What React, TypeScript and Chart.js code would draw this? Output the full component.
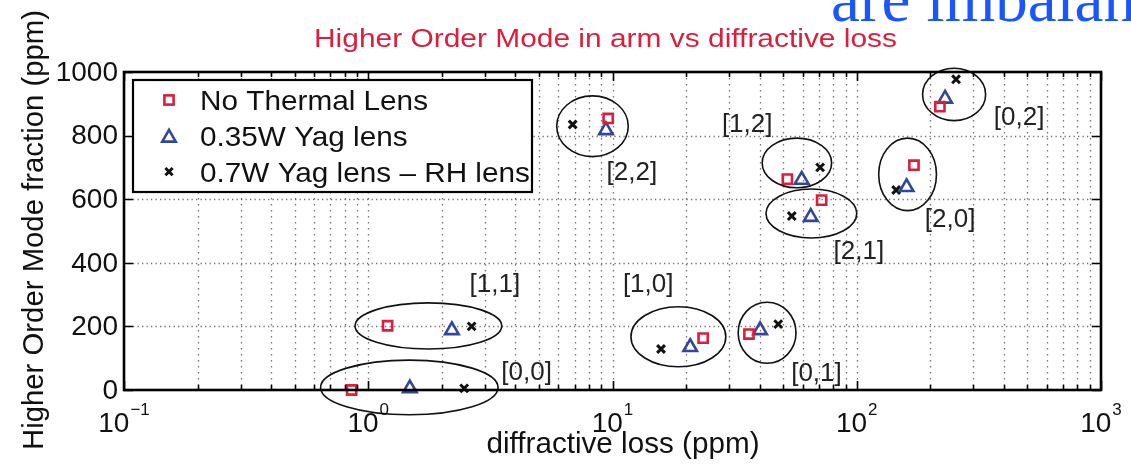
import React, { useEffect, useRef } from "react";
import { Chart, registerables } from "chart.js";

Chart.register(...registerables);

// ---------- data ----------
const modeLabels = ["[0,0]", "[1,1]", "[1,0]", "[0,1]", "[2,2]", "[1,2]", "[2,1]", "[2,0]", "[0,2]"];

const noLensX = [0.855, 1.2, 23.5, 36.2, 9.6, 52, 71.8, 171.5, 219];
const noLensY = [0, 202, 163, 176, 854, 663, 597, 707, 891];

const yag035X = [1.48, 2.2, 20.8, 40.2, 9.4, 59.5, 64.8, 160, 230];
const yag035Y = [5, 188, 135, 188, 817, 661, 544, 638, 916];

const yag07X = [2.47, 2.65, 15.8, 47.7, 6.87, 70.8, 54.2, 145, 255];
const yag07Y = [5, 200, 129, 207, 835, 700, 547, 629, 977];

// ellipse annotation bounds (data units) per mode
const ellXMin = [0.638, 0.883, 11.9, 32.7, 5.91, 41.0, 42.5, 123, 186];
const ellXMax = [3.4, 3.52, 29.1, 56.4, 11.6, 78.9, 100, 212, 337];
const ellYMin = [-78, 129, 73, 84, 734, 636, 478, 564, 847];
const ellYMax = [94, 274, 262, 276, 925, 792, 632, 792, 1012];

// mode label anchor positions (data units)
const labelX = [4.45, 3.3, 14.0, 68.4, 12.0, 35.6, 102, 241, 462];
const labelY = [55, 330, 330, 50, 684, 835, 434, 536, 857];

const seriesNames = ["No Thermal Lens", "0.35W Yag lens", "0.7W Yag lens \u2013 RH lens"];

const xMajorTicks = [0.1, 1, 10, 100, 1000];
const xTickBase = ["10", "10", "10", "10", "10"];
const xTickExp = ["\u22121", "0", "1", "2", "3"];
const xMinorMult = [2, 3, 4, 5, 6, 7, 8, 9];
const yTicks = [0, 200, 400, 600, 800, 1000];
const yTickLabels = ["0", "200", "400", "600", "800", "1000"];

const titleText = "Higher Order Mode in arm vs diffractive loss";
const xTitle = "diffractive loss (ppm)";
const yTitle = "Higher Order Mode fraction (ppm)";
const slideText = "are imbalanced";

// ---------- styles ----------
const RED = "#dc1e3c";
const BLUE = "#32479a";
const BLACK = "#111111";
const SANS = '"Liberation Sans", Arial, sans-serif';

function stretchText(ctx: CanvasRenderingContext2D, text: string, x: number, y: number, targetW: number | null, align: "left" | "center" | "right") {
  const w = ctx.measureText(text).width;
  const sx = targetW ? targetW / w : 1;
  ctx.save();
  ctx.translate(x, y);
  ctx.scale(sx, 1);
  ctx.textAlign = align;
  ctx.fillText(text, 0, 0);
  ctx.restore();
}

function drawMarker(ctx: CanvasRenderingContext2D, kind: number, x: number, y: number) {
  ctx.save();
  ctx.lineWidth = 2.6;
  ctx.setLineDash([]);
  if (kind === 0) {
    ctx.strokeStyle = RED;
    const s = 4.6;
    ctx.strokeRect(x - s, y - s, 2 * s, 2 * s);
  } else if (kind === 1) {
    ctx.strokeStyle = BLUE;
    const r = 7.8;
    const cy = y + r / 4;
    ctx.beginPath();
    ctx.moveTo(x, cy - r);
    ctx.lineTo(x + 0.866 * r, cy + r / 2);
    ctx.lineTo(x - 0.866 * r, cy + r / 2);
    ctx.closePath();
    ctx.stroke();
  } else {
    ctx.strokeStyle = BLACK;
    ctx.lineWidth = 3;
    const d = 3.6;
    ctx.beginPath();
    ctx.moveTo(x - d, y - d);
    ctx.lineTo(x + d, y + d);
    ctx.moveTo(x + d, y - d);
    ctx.lineTo(x - d, y + d);
    ctx.stroke();
  }
  ctx.restore();
}

const decorPlugin = {
  id: "decor",
  beforeDatasetsDraw(chart: any) {
    const ctx: CanvasRenderingContext2D = chart.ctx;
    const xs = chart.scales.x;
    const ys = chart.scales.y;
    const { left, right, top, bottom } = chart.chartArea;
    ctx.save();
    ctx.strokeStyle = "rgba(70,70,70,0.75)";
    ctx.lineWidth = 1.3;
    ctx.setLineDash([1.5, 4.5]);
    ctx.beginPath();
    for (let d = 0; d < xMajorTicks.length - 1; d++) {
      for (const m of xMinorMult) {
        const x = Math.round(xs.getPixelForValue(xMajorTicks[d] * m)) + 0.5;
        ctx.moveTo(x, top);
        ctx.lineTo(x, bottom);
      }
    }
    for (let d = 1; d < xMajorTicks.length - 1; d++) {
      const x = Math.round(xs.getPixelForValue(xMajorTicks[d])) + 0.5;
      ctx.moveTo(x, top);
      ctx.lineTo(x, bottom);
    }
    ctx.stroke();
    ctx.setLineDash([1.3, 3.2]);
    ctx.beginPath();
    for (let i = 1; i < yTicks.length - 1; i++) {
      const y = Math.round(ys.getPixelForValue(yTicks[i])) + 0.5;
      ctx.moveTo(left, y);
      ctx.lineTo(right, y);
    }
    ctx.stroke();
    ctx.restore();
  },
  afterDatasetsDraw(chart: any) {
    const ctx: CanvasRenderingContext2D = chart.ctx;
    const xs = chart.scales.x;
    const ys = chart.scales.y;
    const { left, right, top, bottom } = chart.chartArea;
    ctx.save();
    ctx.setLineDash([]);

    // ellipses
    ctx.strokeStyle = "#111";
    ctx.lineWidth = 1.6;
    for (let i = 0; i < modeLabels.length; i++) {
      const x1 = xs.getPixelForValue(ellXMin[i]);
      const x2 = xs.getPixelForValue(ellXMax[i]);
      const y1 = ys.getPixelForValue(ellYMax[i]);
      const y2 = ys.getPixelForValue(ellYMin[i]);
      ctx.beginPath();
      ctx.ellipse((x1 + x2) / 2, (y1 + y2) / 2, (x2 - x1) / 2, (y2 - y1) / 2, 0, 0, Math.PI * 2);
      ctx.stroke();
    }

    // mode labels
    ctx.fillStyle = "#222";
    ctx.font = `26px ${SANS}`;
    ctx.textBaseline = "middle";
    for (let i = 0; i < modeLabels.length; i++) {
      stretchText(ctx, modeLabels[i], xs.getPixelForValue(labelX[i]), ys.getPixelForValue(labelY[i]), null, "center");
    }

    // ticks
    ctx.strokeStyle = "#000";
    ctx.lineWidth = 1.6;
    ctx.beginPath();
    for (let d = 0; d < xMajorTicks.length; d++) {
      const x = Math.round(xs.getPixelForValue(xMajorTicks[d])) + 0.5;
      ctx.moveTo(x, bottom); ctx.lineTo(x, bottom - 9);
      ctx.moveTo(x, top); ctx.lineTo(x, top + 9);
      if (d < xMajorTicks.length - 1) {
        for (const m of xMinorMult) {
          const xm = Math.round(xs.getPixelForValue(xMajorTicks[d] * m)) + 0.5;
          ctx.moveTo(xm, bottom); ctx.lineTo(xm, bottom - 5);
          ctx.moveTo(xm, top); ctx.lineTo(xm, top + 5);
        }
      }
    }
    for (let i = 0; i < yTicks.length; i++) {
      const y = Math.round(ys.getPixelForValue(yTicks[i])) + 0.5;
      ctx.moveTo(left, y); ctx.lineTo(left + 9, y);
      ctx.moveTo(right, y); ctx.lineTo(right - 9, y);
    }
    ctx.stroke();

    // frame
    ctx.lineWidth = 2.6;
    ctx.strokeRect(left, top, right - left, bottom - top);

    // y tick labels
    ctx.fillStyle = "#111";
    ctx.font = `28px ${SANS}`;
    ctx.textBaseline = "middle";
    for (let i = 0; i < yTicks.length; i++) {
      stretchText(ctx, yTickLabels[i], left - 6, ys.getPixelForValue(yTicks[i]) + 1, null, "right");
    }
    // x tick labels with superscripts
    ctx.textBaseline = "alphabetic";
    for (let d = 0; d < xMajorTicks.length; d++) {
      const x = xs.getPixelForValue(xMajorTicks[d]);
      ctx.font = `28px ${SANS}`;
      const wb = ctx.measureText(xTickBase[d]).width;
      ctx.font = `17px ${SANS}`;
      const we = ctx.measureText(xTickExp[d]).width;
      const start = x - (wb + we + 1) / 2;
      ctx.font = `28px ${SANS}`;
      stretchText(ctx, xTickBase[d], start, bottom + 42, null, "left");
      ctx.font = `17px ${SANS}`;
      stretchText(ctx, xTickExp[d], start + wb + 1, bottom + 25, null, "left");
    }

    // axis titles
    ctx.font = `29px ${SANS}`;
    stretchText(ctx, xTitle, 623, bottom + 63, 273, "center");
    ctx.save();
    ctx.translate(43, 230);
    ctx.rotate(-Math.PI / 2);
    stretchText(ctx, yTitle, 0, 0, 440, "center");
    ctx.restore();

    // title
    ctx.fillStyle = RED;
    ctx.font = `26px ${SANS}`;
    stretchText(ctx, titleText, 605.5, 47, 583, "center");

    // slide text
    ctx.fillStyle = "#1a55ff";
    ctx.font = `65px "Liberation Serif", "Times New Roman", serif`;
    stretchText(ctx, slideText, 831, 21, null, "left");

    // legend
    const lx = left + 9, ly = top + 8, lw = 399, lh = 112;
    ctx.fillStyle = "#fff";
    ctx.fillRect(lx, ly, lw, lh);
    ctx.strokeStyle = "#000";
    ctx.lineWidth = 2.2;
    ctx.strokeRect(lx, ly, lw, lh);
    ctx.fillStyle = "#111";
    ctx.font = `28px ${SANS}`;
    const sx = 228 / ctx.measureText(seriesNames[0]).width;
    for (let i = 0; i < seriesNames.length; i++) {
      const cy = ly + 20 + i * 35.8;
      drawMarker(ctx, i, lx + 36, cy);
      ctx.save();
      ctx.translate(lx + 67, cy + 10);
      ctx.scale(sx, 1);
      ctx.textAlign = "left";
      ctx.fillText(seriesNames[i], 0, 0);
      ctx.restore();
    }
    ctx.restore();
  },
};

export default function App() {
  const canvasRef = useRef<HTMLCanvasElement | null>(null);

  useEffect(() => {
    if (!canvasRef.current) return;
    const mk = (xa: number[], ya: number[]) => xa.map((x, i) => ({ x, y: ya[i] }));
    const chart = new Chart(canvasRef.current, {
      type: "scatter",
      data: {
        datasets: [
          {
            label: seriesNames[0],
            data: mk(noLensX, noLensY),
            pointStyle: "rect",
            pointRadius: 6.5,
            pointBorderWidth: 2.6,
            pointBorderColor: RED,
            pointBackgroundColor: "rgba(255,255,255,0)",
            clip: false as any,
          },
          {
            label: seriesNames[1],
            data: mk(yag035X, yag035Y),
            pointStyle: "triangle",
            pointRadius: 7.8,
            pointBorderWidth: 2.6,
            pointBorderColor: BLUE,
            pointBackgroundColor: "rgba(255,255,255,0)",
            clip: false as any,
          },
          {
            label: seriesNames[2],
            data: mk(yag07X, yag07Y),
            pointStyle: "crossRot",
            pointRadius: 5.5,
            pointBorderWidth: 3,
            pointBorderColor: BLACK,
            pointBackgroundColor: BLACK,
            clip: false as any,
          },
        ],
      },
      options: {
        animation: false,
        responsive: true,
        maintainAspectRatio: false,
        events: [],
        layout: { padding: { left: 124, right: 30, top: 72, bottom: 77 } },
        scales: {
          x: { type: "logarithmic", min: 0.1, max: 1000, display: false },
          y: { type: "linear", min: 0, max: 1000, display: false },
        },
        plugins: {
          legend: { display: false },
          title: { display: false },
          tooltip: { enabled: false },
        },
      },
      plugins: [decorPlugin],
    });
    return () => chart.destroy();
  }, []);

  return (
    <div style={{ position: "fixed", left: 0, top: 0, width: 1131, height: 467, background: "#fff" }}>
      <canvas ref={canvasRef} />
    </div>
  );
}
